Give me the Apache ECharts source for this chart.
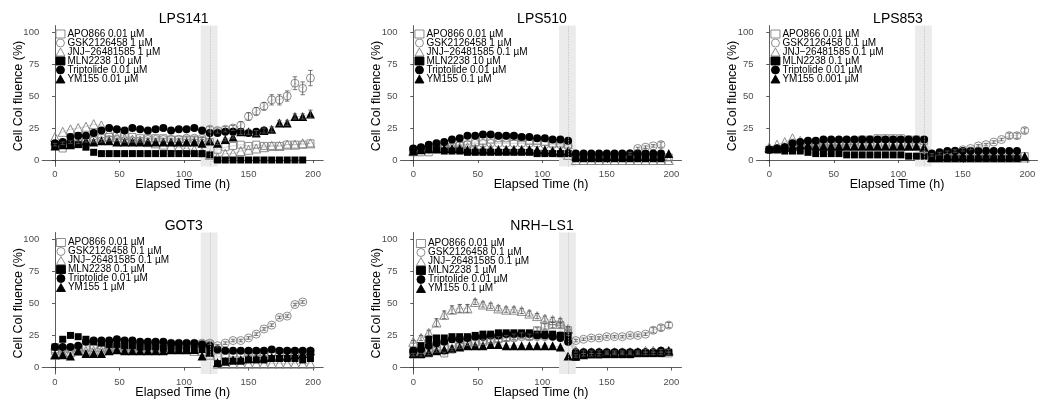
<!DOCTYPE html>
<html><head><meta charset="utf-8">
<script src="https://cdn.jsdelivr.net/npm/echarts@6/dist/echarts.min.js"></script>
<style>html,body{margin:0;padding:0;background:#fff}#c{width:1047px;height:400px}</style>
</head><body><div id="c"></div>
<script>
// Elapsed time (h)
const T = [0,6,12,18,24,30,36,42,48,54,60,66,72,78,84,90,96,102,108,114,120,126,132,138,144,150,156,162,168,174,180,186,192,198];
const X_TICKS = [0,50,100,150,200];
const Y_TICKS = [0,25,50,75,100];
const SHADE = [113,126];
const DOSE_LINE = 120;
const TITLES = ['LPS141','LPS510','LPS853','GOT3','NRH\u2212LS1'];

// Legend labels per panel
const P1_NAMES = ['APO866 0.01 µM','GSK2126458 1 µM','JNJ\u221226481585 1 µM','MLN2238 10 µM','Triptolide 0.01 µM','YM155 0.01 µM'];
const P2_NAMES = ['APO866 0.01 µM','GSK2126458 1 µM','JNJ\u221226481585 0.1 µM','MLN2238 10 µM','Triptolide 0.01 µM','YM155 0.1 µM'];
const P3_NAMES = ['APO866 0.01 µM','GSK2126458 0.1 µM','JNJ\u221226481585 0.1 µM','MLN2238 0.1 µM','Triptolide 0.01 µM','YM155 0.001 µM'];
const P4_NAMES = ['APO866 0.01 µM','GSK2126458 0.1 µM','JNJ\u221226481585 0.1 µM','MLN2238 0.1 µM','Triptolide 0.01 µM','YM155 1 µM'];
const P5_NAMES = ['APO866 0.01 µM','GSK2126458 0.1 µM','JNJ\u221226481585 0.1 µM','MLN2238 1 µM','Triptolide 0.01 µM','YM155 0.1 µM'];

// LPS141
const P1_APO = [11,9,12,13,14,16,17,18,19,19, 18,17,17,17,17,16,16,16,16,15, 14,8,10,11,12,11,12,11,11,11, 12,12,12,13];
const P1_GSK = [12,13,14,14,15,15,15,16,16,15, 15,15,16,16,16,16,16,17,17,17, 24,23,24,25,27,34,38,42,47,47, 50,60,56,64];
const P1_GSK_ERR = [1,1,1,1,1,1,1,1,1,1, 1,1,1,1,1,1,1,1,1,1, 2,2,2,2,3,3,3,3,4,4, 4,5,5,6];
const P1_JNJ = [18,22,24,25,26,28,27,22,18,17, 16,15,14,13,12,11,10,9,8,6, 4,2,5,5,7,8,9,10,11,11, 12,12,13,13];
const P1_MLN = [12,13,13,12,10,6,5,5,5,5, 5,5,5,5,5,5,5,5,5,5, 4,0,0,0,0,0,0,0,0,0, 0,0,0,null];
const P1_TRP = [13,14,18,19,19,21,23,25,24,23, 25,24,23,24,25,23,24,24,25,23, 21,21,22,22,22,21,22,23,null,null, null,null,null,null];
const P1_YM  = [11,12,12,13,15,14,15,15,14,14, 14,14,14,14,14,14,14,14,14,13, 15,13,16,18,22,22,21,23,24,29, 29,34,34,36];
const P1_YM_ERR = [null,null,null,null,null,null,null,null,null,null, null,null,null,null,null,null,null,null,null,null, 1,1,1,1,2,2,2,2,2,2, 2,2,2,3];

// LPS510
const P2_APO = [6,6,6,8,9,10,11,12,14,15, 16,17,17,18,17,15,15,14,13,13, 12,2,2,2,2,2,2,2,2,2, 2,2,2,2];
const P2_GSK = [7,8,8,9,10,11,12,12,13,13, 13,13,13,13,13,13,13,12,12,12, 11,3,3,3,3,3,4,4,5,9, 10,11,12,null];
const P2_GSK_ERR = [null,null,null,null,null,null,null,null,null,null, null,null,null,null,null,null,null,null,null,null, null,null,null,null,null,null,null,null,1,1, 1,1,2,null];
const P2_JNJ = [7,9,10,11,11,11,10,10,9,9, 9,8,8,8,8,8,7,7,7,6, 4,0,0,0,0,0,0,0,0,0, 0,0,0,0];
const P2_MLN = [8,9,8,8,7,7,7,6,6,6, 6,6,6,6,6,6,5,5,5,5, 5,1,1,1,1,1,1,1,1,1, 1,1,1,null];
const P2_TRP = [9,10,12,13,14,16,17,19,19,20, 20,19,19,19,18,18,17,17,16,16, 15,5,5,5,5,5,5,5,5,5, 5,5,5,null];
const P2_YM  = [7,8,9,9,9,9,9,8,8,8, 8,8,8,8,8,8,8,8,7,7, 7,3,3,3,3,3,3,3,3,3, 3,3,3,5];

// LPS853
const P3_APO = [8,8,9,10,11,12,13,13,14,14, 15,15,16,16,17,17,17,17,16,16, 15,2,2,2,2,2,2,2,2,2, 2,2,2,3];
const P3_GSK = [8,9,10,11,12,12,12,12,12,12, 12,12,12,12,12,12,12,12,12,12, 6,4,5,6,7,8,9,11,12,14, 16,19,19,23];
const P3_GSK_ERR = [null,null,null,null,null,null,null,null,null,null, null,null,null,null,null,null,null,null,null,null, 1,1,1,1,1,1,1,1,1,1, 1,2,2,2];
const P3_JNJ = [10,12,14,17,15,14,13,12,12,12, 11,11,11,11,11,11,11,11,11,11, 10,2,2,2,2,2,2,2,2,2, 2,2,2,2];
const P3_MLN = [8,8,7,7,7,6,5,5,5,5, 4,4,4,4,4,4,4,4,3,3, 3,1,1,1,1,1,1,1,1,1, 1,1,1,null];
const P3_TRP = [8,9,10,13,14,15,15,16,16,16, 16,16,16,16,16,16,16,16,16,16, 16,5,6,7,7,7,7,7,7,7, 7,7,7,null];
const P3_YM  = [9,9,10,11,12,12,11,11,11,11, 11,11,11,11,11,11,11,11,11,11, 10,2,3,3,3,3,3,3,3,3, 3,3,3,3];

// GOT3
const P4_APO = [13,14,14,15,15,15,15,15,16,16, 16,16,17,17,17,17,17,18,18,18, 18,8,10,11,11,12,12,12,12,12, 12,12,12,12];
const P4_GSK = [14,15,15,16,16,17,17,17,17,18, 18,18,18,18,19,19,19,19,19,19, 19,17,19,21,21,23,26,30,33,39, 40,49,51,null];
const P4_GSK_ERR = [null,null,null,null,null,null,null,null,null,null, null,null,null,null,null,null,null,null,null,null, 1,1,1,1,1,1,1,1,1,1, 1,1,1,null];
const P4_JNJ = [10,11,12,13,13,13,13,14,14,14, 14,14,14,14,14,14,14,14,13,13, 10,3,3,3,3,3,3,3,3,3, 3,3,3,3];
const P4_MLN = [16,22,25,24,22,20,19,18,18,17, 17,16,16,16,15,15,15,14,14,14, 13,3,5,5,5,6,6,6,7,7, 7,7,6,7];
const P4_TRP = [16,16,16,17,20,21,21,21,22,21, 21,20,20,20,20,19,19,19,19,18, 17,14,13,13,13,13,13,13,14,13, 13,13,13,13];
const P4_YM  = [10,10,9,13,11,11,11,13,14,13, 13,13,13,13,13,14,14,14,14,9, 12,4,5,6,6,7,7,8,8,9, 9,10,11,13];

// NRH-LS1
const P5_APO = [10,10,11,13,11,14,16,18,19,20, 21,22,23,24,25,24,29,32,33,33, 29,9,10,10,10,11,11,11,11,11, 11,11,11,11];
const P5_APO_ERR = [1,1,1,1,1,1,1,1,2,2, 2,2,2,2,2,2,2,2,2,2, 2,1,1,1,1,1,1,1,1,1, 1,1,1,1];
const P5_GSK = [12,13,14,15,16,17,18,19,20,21, 22,22,23,23,24,24,24,24,25,25, 27,21,22,23,23,24,24,24,25,25, 26,29,31,33];
const P5_GSK_ERR = [null,null,null,null,null,null,null,null,null,null, null,null,null,null,null,null,null,null,null,null, 2,1,1,1,1,1,1,1,1,1, 1,2,2,2];
const P5_JNJ = [20,23,27,35,41,45,46,46,51,49, 48,46,45,45,44,42,40,38,37,36, 30,13,12,12,12,12,12,12,12,12, 13,13,13,13];
const P5_JNJ_ERR = [1,2,2,3,3,3,3,3,2,2, 2,2,2,2,2,2,2,2,2,2, 2,1,1,1,1,1,1,1,1,1, 1,1,1,1];
const P5_MLN = [13,17,22,23,23,24,24,24,25,26, 26,27,27,27,27,27,26,26,26,25, 25,8,10,10,10,10,10,10,10,11, 11,11,11,12];
const P5_TRP = [13,14,17,19,20,22,22,23,24,24, 25,25,26,26,26,26,25,25,24,23, 20,12,12,12,12,12,12,12,12,12, 12,12,13,null];
const P5_YM  = [11,11,12,13,14,15,16,17,17,17, 18,18,17,17,17,17,17,17,17,16, 9,9,10,11,11,11,11,11,11,12, 12,12,12,13];

const FONT = '"Liberation Sans", Arial, Helvetica, sans-serif';
const STY = [
  {symbol:'rect', size:7, color:'rgba(0,0,0,0)', border:'#808080', bw:0.9},
  {symbol:'circle', size:8, color:'rgba(0,0,0,0)', border:'#808080', bw:0.9},
  {symbol:'triangle', size:9, color:'rgba(0,0,0,0)', border:'#808080', bw:0.9},
  {symbol:'rect', size:7, color:'#000', border:'#000', bw:0},
  {symbol:'circle', size:8, color:'#000', border:'#000', bw:0},
  {symbol:'triangle', size:9, color:'#000', border:'#000', bw:0}
];

const PANELS = [
  {names:P1_NAMES, vals:[P1_APO,P1_GSK,P1_JNJ,P1_MLN,P1_TRP,P1_YM], errs:[null,P1_GSK_ERR,null,null,null,P1_YM_ERR],
   grid:{left:42.2, top:25.6, width:281, height:140.8}, leg:{left:55.5, top:29}},
  {names:P2_NAMES, vals:[P2_APO,P2_GSK,P2_JNJ,P2_MLN,P2_TRP,P2_YM], errs:[null,P2_GSK_ERR,null,null,null,null],
   grid:{left:400.5, top:25.6, width:281, height:140.8}, leg:{left:414.5, top:29}},
  {names:P3_NAMES, vals:[P3_APO,P3_GSK,P3_JNJ,P3_MLN,P3_TRP,P3_YM], errs:[null,P3_GSK_ERR,null,null,null,null],
   grid:{left:756.5, top:25.6, width:281, height:140.8}, leg:{left:770.5, top:29}},
  {names:P4_NAMES, vals:[P4_APO,P4_GSK,P4_JNJ,P4_MLN,P4_TRP,P4_YM], errs:[null,P4_GSK_ERR,null,null,null,null],
   grid:{left:42.2, top:232.5, width:281, height:141.9}, leg:{left:56, top:237.5}},
  {names:P5_NAMES, vals:[P5_APO,P5_GSK,P5_JNJ,P5_MLN,P5_TRP,P5_YM], errs:[P5_APO_ERR,P5_GSK_ERR,P5_JNJ_ERR,null,null,null],
   grid:{left:400.5, top:232.5, width:281, height:141.9}, leg:{left:416, top:238.5}}
];

function renderErr(params, api){
  const x = api.value(0), v = api.value(1), e = api.value(2);
  const hi = api.coord([x, v + e]), lo = api.coord([x, v - e]);
  const w = 2.2;
  const style = {stroke:'#555', lineWidth:0.8, fill:null};
  return {type:'group', children:[
    {type:'line', shape:{x1:hi[0], y1:hi[1], x2:lo[0], y2:lo[1]}, style:style},
    {type:'line', shape:{x1:hi[0]-w, y1:hi[1], x2:hi[0]+w, y2:hi[1]}, style:style},
    {type:'line', shape:{x1:lo[0]-w, y1:lo[1], x2:lo[0]+w, y2:lo[1]}, style:style}
  ]};
}

const grids=[], xAxes=[], yAxes=[], titles=[], legends=[], series=[];
PANELS.forEach((p, i) => {
  grids.push(Object.assign({containLabel:false}, p.grid));
  titles.push({text:TITLES[i], left:p.grid.left + p.grid.width/2 + 1, top:p.grid.top - 13, textAlign:'center', padding:0,
    textStyle:{fontSize:14, fontWeight:'normal', color:'#000', fontFamily:FONT}});
  xAxes.push({type:'value', gridIndex:i, min:-9.9, max:207.9,
    axisLine:{lineStyle:{color:'#333', width:0.8}},
    axisTick:{length:3, customValues:X_TICKS, lineStyle:{color:'#333', width:0.8}},
    axisLabel:{customValues:X_TICKS, fontSize:9.5, color:'#4d4d4d', margin:3, fontFamily:FONT},
    splitLine:{show:false},
    name:'Elapsed Time (h)', nameLocation:'middle', nameGap:12, nameMoveOverlap:false,
    nameTextStyle:{fontSize:12.5, color:'#000', fontFamily:FONT}});
  yAxes.push({type:'value', gridIndex:i, min:-5, max:105,
    axisLine:{show:true, lineStyle:{color:'#333', width:0.8}},
    axisTick:{show:true, length:3, customValues:Y_TICKS, lineStyle:{color:'#333', width:0.8}},
    axisLabel:{customValues:Y_TICKS, fontSize:9.5, color:'#4d4d4d', margin:3, fontFamily:FONT},
    splitLine:{show:false},
    name:'Cell Col fluence (%)', nameLocation:'middle', nameGap:17, nameRotate:90, nameMoveOverlap:false,
    nameTextStyle:{fontSize:12.5, color:'#000', fontFamily:FONT}});
  legends.push({orient:'vertical', left:p.leg.left, top:p.leg.top, padding:0, itemGap:-1,
    itemWidth:9, itemHeight:8, selectedMode:false,
    itemStyle:{borderWidth:0.9},
    textStyle:{fontSize:10, lineHeight:8, color:'#000', fontFamily:FONT, padding:[0,0,0,-2.5]},
    data:p.names.map((n, j) => ({name:n, icon:STY[j].symbol}))});
  // treatment window shading and dotted line
  series.push({type:'line', xAxisIndex:i, yAxisIndex:i, data:[], silent:true, z:1,
    markArea:{silent:true, itemStyle:{color:'#ebebeb'}, data:[[{xAxis:SHADE[0]},{xAxis:SHADE[1]}]]},
    markLine:{silent:true, symbol:'none', label:{show:false}, lineStyle:{type:'dotted', color:'#bdbdbd', width:0.8}, data:[{xAxis:DOSE_LINE}]}});
  p.vals.forEach((vals, j) => {
    const s = STY[j];
    series.push({type:'line', name:p.names[j], xAxisIndex:i, yAxisIndex:i, z:2,
      data:T.map((t, k) => [t, vals[k]]),
      symbol:s.symbol, symbolSize:s.size, showAllSymbol:true,
      itemStyle:{color:s.color, borderColor:s.border, borderWidth:s.bw},
      lineStyle:{color:'#a8a8a8', width:0.5},
      emphasis:{disabled:true}});
    const err = p.errs[j];
    if (err) {
      series.push({type:'custom', xAxisIndex:i, yAxisIndex:i, z:3, silent:true,
        data:T.map((t, k) => (vals[k] != null && err[k] != null) ? [t, vals[k], err[k]] : null).filter(d => d),
        encode:{x:0, y:1}, renderItem:renderErr});
    }
  });
});

const chart = echarts.init(document.getElementById('c'));
chart.setOption({animation:false, backgroundColor:'#fff', textStyle:{fontFamily:FONT},
  grid:grids, xAxis:xAxes, yAxis:yAxes, title:titles, legend:legends, series:series});
</script></body></html>
